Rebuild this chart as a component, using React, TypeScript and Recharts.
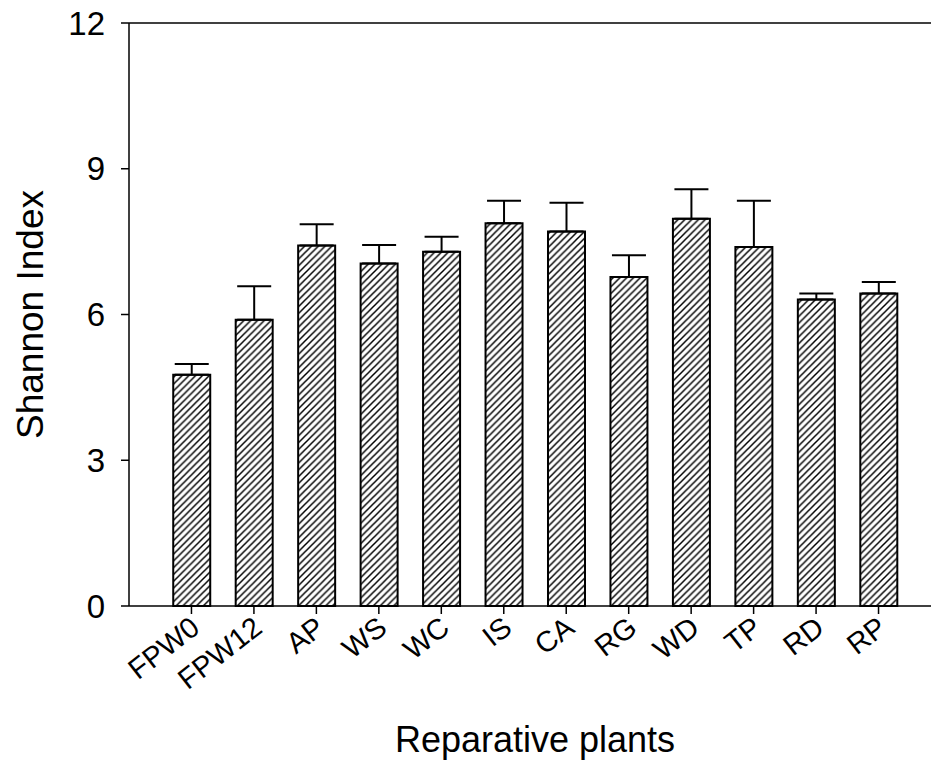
import React from 'react';
import { BarChart, Bar, XAxis, YAxis, ErrorBar, ReferenceLine } from 'recharts';

const categories = ['FPW0', 'FPW12', 'AP', 'WS', 'WC', 'IS', 'CA', 'RG', 'WD', 'TP', 'RD', 'RP'];
const shannon = [4.76, 5.89, 7.42, 7.05, 7.29, 7.88, 7.71, 6.77, 7.97, 7.39, 6.31, 6.43];
const shannonErr = [0.22, 0.69, 0.44, 0.38, 0.31, 0.46, 0.59, 0.45, 0.61, 0.95, 0.12, 0.24];
const positions = [1, 2, 3, 4, 5, 6, 7, 8, 9, 10, 11, 12];
const yTicks = [0, 3, 6, 9, 12];

const font = '"Liberation Sans", Arial, sans-serif';

const data = categories.map((name, i) => ({
  pos: positions[i],
  name,
  value: shannon[i],
  err: [0, shannonErr[i]],
}));

const AngledTick: React.FC<any> = ({ x, y, payload }) => {
  const label = categories[payload.value - 1];
  const tx = x + 10;
  const ty = y + 15;
  return (
    <text
      x={tx}
      y={ty}
      transform={`rotate(-38, ${tx}, ${ty})`}
      textAnchor="end"
      fontFamily={font}
      fontSize={29}
      fill="#000"
    >
      {label}
    </text>
  );
};

const App: React.FC = () => {
  return (
    <div style={{ position: 'absolute', left: 0, top: 0, width: 931, height: 776, background: '#fff' }}>
      <svg width={0} height={0} style={{ position: 'absolute' }}>
        <defs>
          <pattern id="hatch" patternUnits="userSpaceOnUse" width={6.8} height={6.8}>
            <path d="M-1,1 l2,-2 M0,6.8 l6.8,-6.8 M5.8,7.8 l2,-2" stroke="#000" strokeWidth={1.5} />
          </pattern>
        </defs>
      </svg>
      <BarChart
        width={931}
        height={776}
        data={data}
        margin={{ top: 23, right: 0, left: 0, bottom: 0 }}
        style={{ fontFamily: font }}
      >
        <XAxis
          type="number"
          dataKey="pos"
          domain={[0, 12.84]}
          ticks={positions}
          interval={0}
          allowDataOverflow
          height={170}
          tickSize={8}
          tickLine={{ stroke: '#000', strokeWidth: 1.5 }}
          axisLine={{ stroke: '#000', strokeWidth: 1.5 }}
          tick={<AngledTick />}
          label={{
            value: 'Reparative plants',
            position: 'insideBottom',
            offset: 24,
            dx: 5,
            style: { fontSize: 36, fill: '#000', fontFamily: font },
          }}
        />
        <YAxis
          type="number"
          domain={[0, 12]}
          ticks={yTicks}
          width={129}
          tickSize={8}
          tickMargin={16}
          tickLine={{ stroke: '#000', strokeWidth: 1.5 }}
          axisLine={{ stroke: '#000', strokeWidth: 1.5 }}
          tick={{ fontSize: 33, fill: '#000', fontFamily: font }}
          label={{
            value: 'Shannon Index',
            angle: -90,
            position: 'insideLeft',
            offset: 30,
            style: { fontSize: 37, fill: '#000', fontFamily: font, textAnchor: 'middle' },
          }}
        />
        <ReferenceLine y={12} stroke="#000" strokeWidth={1.5} />
        <Bar
          dataKey="value"
          barSize={37}
          fill="url(#hatch)"
          stroke="#000"
          strokeWidth={2}
          isAnimationActive={false}
        >
          <ErrorBar dataKey="err" width={17} stroke="#000" strokeWidth={2} direction="y" />
        </Bar>
      </BarChart>
    </div>
  );
};

export default App;
